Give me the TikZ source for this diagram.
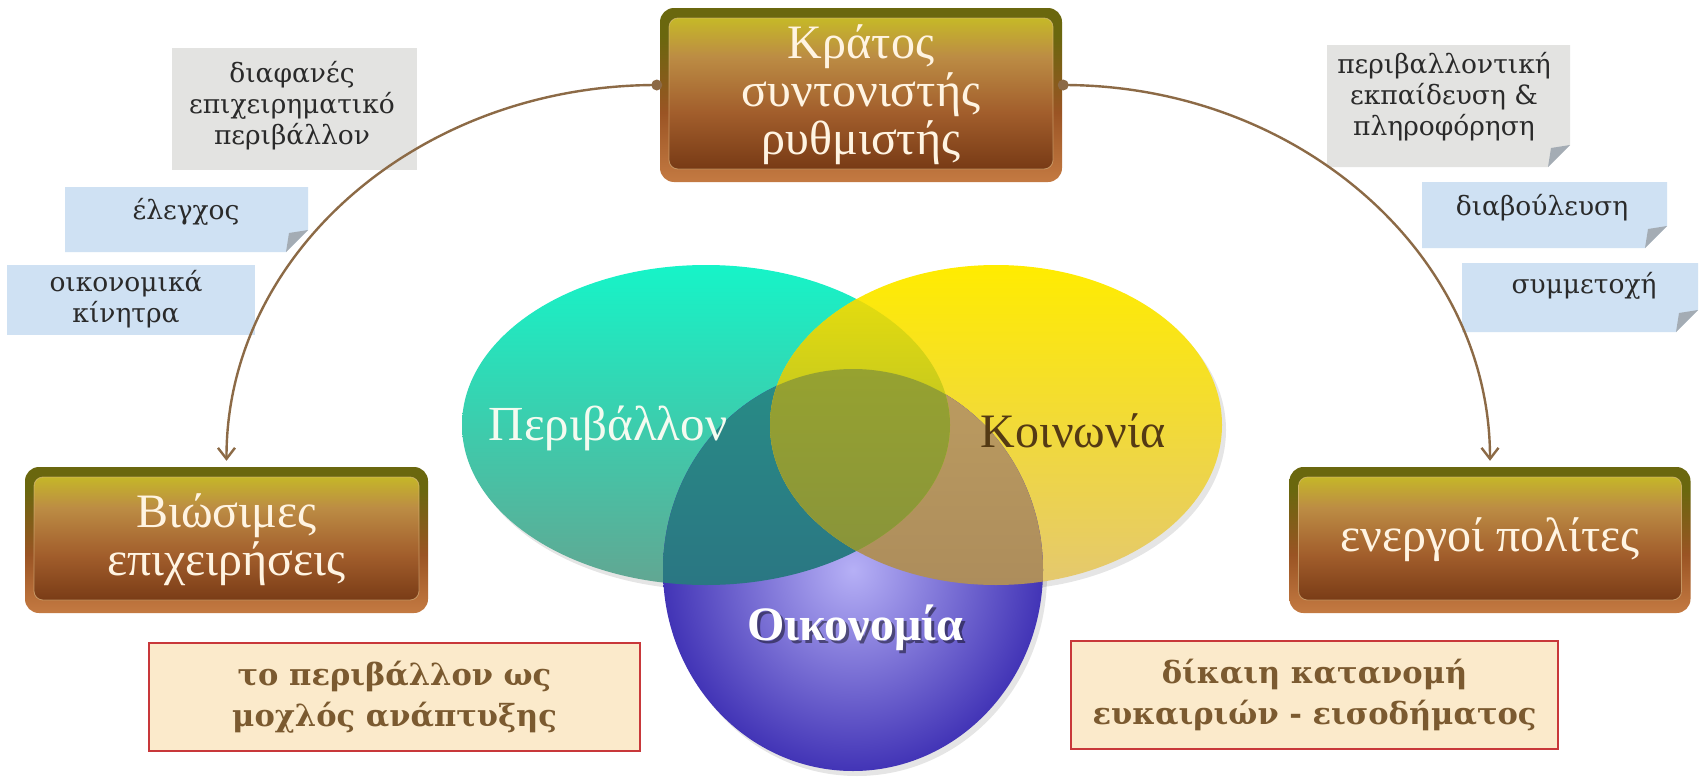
\documentclass[tikz,border=0pt]{standalone}
\usepackage{fontspec}
\setmainfont{Liberation Serif}
\newfontfamily\calfont{DejaVu Serif}
\usetikzlibrary{arrows.meta}
\definecolor{bOutTop}{HTML}{6A670E}
\definecolor{bOutMid}{HTML}{9A5424}
\definecolor{bOutBot}{HTML}{C47A42}
\definecolor{bInTop}{HTML}{C8C420}
\definecolor{bInUp}{HTML}{BC8C44}
\definecolor{bInMid}{HTML}{A25E2C}
\definecolor{bInBot}{HTML}{6E3210}
\definecolor{bLine}{HTML}{E2C08A}
\definecolor{cream}{HTML}{FFF4E2}
\definecolor{arcbrown}{HTML}{8C6A46}
\definecolor{calgray}{HTML}{E3E3E1}
\definecolor{calblue}{HTML}{CFE1F3}
\definecolor{foldc}{HTML}{A4ACB4}
\definecolor{caltext}{HTML}{2A2A2A}
\definecolor{redfill}{HTML}{FBEACB}
\definecolor{redline}{HTML}{C8383A}
\definecolor{redtext}{HTML}{7B5A30}
\pgfdeclareverticalshading{bOut}{100bp}{color(0bp)=(bOutBot); color(25bp)=(bOutBot); color(45bp)=(bOutMid); color(67bp)=(bOutTop); color(100bp)=(bOutTop)}
\pgfdeclareverticalshading{bIn}{100bp}{color(0bp)=(bInBot); color(25bp)=(bInBot); color(45bp)=(bInMid); color(61bp)=(bInUp); color(75bp)=(bInTop); color(100bp)=(bInTop)}
\begin{document}
\begin{tikzpicture}[x=1pt,y=-1pt,
  brownbox/.style={rounded corners=14pt, shade, shading=bOut,
    text=cream, font=\fontsize{48}{48}\selectfont, align=center, inner sep=0pt,
    path picture={
      \shade[rounded corners=9pt, shading=bIn]
        ([xshift=9pt,yshift=-10pt]path picture bounding box.north west) rectangle
        ([xshift=-9pt,yshift=13pt]path picture bounding box.south east);
      \draw[rounded corners=9pt, bLine, line width=0.8pt, opacity=0.6]
        ([xshift=9pt,yshift=-10pt]path picture bounding box.north west) rectangle
        ([xshift=-9pt,yshift=13pt]path picture bounding box.south east);
    }},
  caltxt/.style={font=\calfont\fontsize{26.5}{31}\selectfont, text=caltext, align=center, inner sep=0pt},
  redbox/.style={draw=redline, line width=1.5pt, fill=redfill, minimum width=491pt, minimum height=108pt,
    font=\calfont\bfseries\fontsize{30.5}{41}\selectfont, text=redtext, align=center, inner sep=0pt},
  arcline/.style={draw=arcbrown, line width=2.4pt, -{Straight Barb[length=11pt,width=17pt,line width=2.4pt]}},
  venntxt/.style={font=\fontsize{49}{50}\selectfont, inner sep=0pt}
]
\useasboundingbox (0,0) rectangle (1700,779);
\fill[white] (0,0) rectangle (1700,779);

% ---------- callouts left
\fill[calgray] (172,48) rectangle (417,170);
\node[caltxt] (c1) at (292,106) {διαφανές\\επιχειρηματικό\\περιβάλλον};
\fill[calblue] (65,187) -- (308,187) -- (308,230) -- (286,252) -- (65,252) -- cycle;
\fill[foldc] (308,230) -- (286,252) -- (289,233) -- cycle;
\node[caltxt] (c2) at (186,212) {έλεγχος};
\fill[calblue] (7,265) rectangle (255,335);
\node[caltxt] (c3) at (126,299) {οικονομικά\\κίνητρα};

% ---------- callouts right
\fill[calgray] (1327,45) -- (1570,45) -- (1570,145) -- (1548,167) -- (1327,167) -- cycle;
\fill[foldc] (1570,145) -- (1548,167) -- (1551,148) -- cycle;
\node[caltxt] (c4) at (1444,97) {περιβαλλοντική\\εκπαίδευση \&\\πληροφόρηση};
\fill[calblue] (1422,182) -- (1667,182) -- (1667,226) -- (1645,248) -- (1422,248) -- cycle;
\fill[foldc] (1667,226) -- (1645,248) -- (1648,229) -- cycle;
\node[caltxt] (c5) at (1542,208) {διαβούλευση};
\fill[calblue] (1462,263) -- (1698,263) -- (1698,310) -- (1676,332) -- (1462,332) -- cycle;
\fill[foldc] (1698,310) -- (1676,332) -- (1679,313) -- cycle;
\node[caltxt] (c6) at (1584,286) {συμμετοχή};

% ---------- brown boxes
\node[brownbox, minimum width=402pt, minimum height=174pt] (top) at (861,95) {Κράτος\\συντονιστής\\ρυθμιστής};
\node[brownbox, minimum width=403pt, minimum height=146pt] (lb) at (226.5,540) {Βιώσιμες\\επιχειρήσεις};
\node[brownbox, minimum width=401pt, minimum height=146pt] (rb) at (1490,540) {ενεργοί πολίτες};

% ---------- connectors
\coordinate (dl) at ([xshift=-3pt,yshift=10pt]top.west);
\coordinate (dr) at ([xshift=1pt,yshift=10pt]top.east);
\draw[arcline] (dl) .. controls (418,85) and (226,254) .. ([yshift=6pt]lb.north);
\draw[arcline] (dr) .. controls (1298,85) and (1490,254) .. ([yshift=6pt]rb.north);
\fill[arcbrown] (dl) circle (5.5pt);
\fill[arcbrown] (dr) circle (5.5pt);

% ---------- Venn
\fill[black, opacity=0.10] (710,430) ellipse [x radius=244pt, y radius=160pt];
\fill[black, opacity=0.10] (1000,430) ellipse [x radius=226pt, y radius=160pt];
\fill[black, opacity=0.10] (857,575) ellipse [x radius=190pt, y radius=201pt];
\shade[top color={rgb,255:red,22;green,244;blue,200}, bottom color={rgb,255:red,98;green,166;blue,146}]
  (706,425) ellipse [x radius=244pt, y radius=160pt];
\shade[top color={rgb,255:red,255;green,236;blue,0}, bottom color={rgb,255:red,228;green,200;blue,112}]
  (996,425) ellipse [x radius=226pt, y radius=160pt];
\shade[inner color={rgb,255:red,182;green,176;blue,246}, outer color={rgb,255:red,66;green,52;blue,182}]
  (853,570) ellipse [x radius=190pt, y radius=201pt];
% teal & blue
\begin{scope}
  \clip (706,425) ellipse [x radius=244pt, y radius=160pt];
  \shade[top color={rgb,255:red,40;green,140;blue,134}, bottom color={rgb,255:red,44;green,100;blue,128}]
    (853,570) ellipse [x radius=190pt, y radius=201pt];
\end{scope}
% yellow & blue
\begin{scope}
  \clip (996,425) ellipse [x radius=226pt, y radius=160pt];
  \shade[top color={rgb,255:red,188;green,156;blue,96}, bottom color={rgb,255:red,160;green,128;blue,88}]
    (853,570) ellipse [x radius=190pt, y radius=201pt];
\end{scope}
% teal & yellow
\begin{scope}
  \clip (706,425) ellipse [x radius=244pt, y radius=160pt];
  \shade[top color={rgb,255:red,236;green,226;blue,10}, bottom color={rgb,255:red,150;green,168;blue,56}]
    (996,425) ellipse [x radius=226pt, y radius=160pt];
\end{scope}
% all three
\begin{scope}
  \clip (706,425) ellipse [x radius=244pt, y radius=160pt];
  \clip (996,425) ellipse [x radius=226pt, y radius=160pt];
  \shade[top color={rgb,255:red,150;green,162;blue,48}, bottom color={rgb,255:red,122;green,132;blue,70}]
    (853,570) ellipse [x radius=190pt, y radius=201pt];
\end{scope}

\node[venntxt, text={rgb,255:red,244;green,251;blue,240}] (env) at (608,428) {Περιβάλλον};
\node[venntxt, font=\fontsize{48}{50}\selectfont, text={rgb,255:red,84;green,58;blue,20}] (soc) at (1073,431) {Κοινωνία};
\node[venntxt, font=\bfseries\fontsize{48}{50}\selectfont, text=black, opacity=0.45] at (858,631) {Οικονομία};
\node[venntxt, font=\bfseries\fontsize{48}{50}\selectfont, text=white] (eco) at (855,628) {Οικονομία};

% ---------- red boxes
\node[redbox] (rl) at (394.5,697) {το περιβάλλον ως\\μοχλός ανάπτυξης};
\node[redbox, minimum width=487pt] (rr) at (1314.5,695) {δίκαιη κατανομή\\ευκαιριών - εισοδήματος};
\end{tikzpicture}
\end{document}
